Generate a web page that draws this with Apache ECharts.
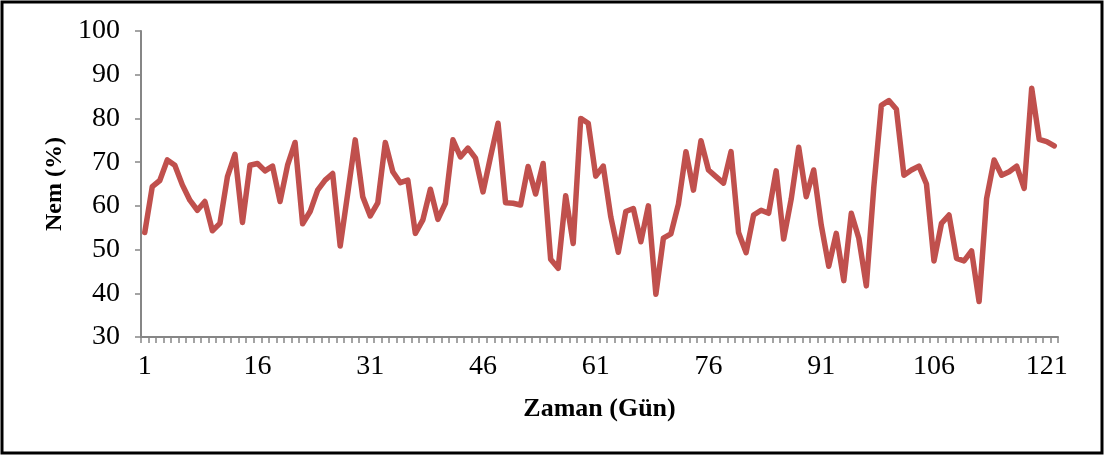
<!DOCTYPE html>
<html>
<head>
<meta charset="utf-8">
<script src="https://cdn.jsdelivr.net/npm/echarts@6/dist/echarts.min.js"></script>
<style>
html,body{margin:0;padding:0;background:#fff;}
#chart{width:1105px;height:459px;}
</style>
</head>
<body>
<div id="chart"></div>
<script>
// Days 1..122
var days = [];
for (var d = 1; d <= 122; d++) days.push(String(d));

var humidity = [
  53.9, 64.4, 65.8, 70.5, 69.3, 64.8, 61.3, 59.0, 61.0, 54.3,
  56.0, 66.7, 71.8, 56.2, 69.3, 69.7, 68.0, 69.1, 61.0, 69.3,
  74.5, 55.9, 58.7, 63.6, 65.9, 67.4, 50.8, 62.8, 75.1, 62.1,
  57.7, 60.7, 74.5, 67.8, 65.3, 65.9, 53.7, 56.8, 63.8, 56.9,
  60.6, 75.1, 71.2, 73.2, 70.9, 63.2, 71.2, 78.9, 60.7, 60.6,
  60.2, 69.0, 62.7, 69.7, 47.8, 45.7, 62.3, 51.4, 80.0, 78.9,
  66.8, 69.1, 57.5, 49.4, 58.7, 59.4, 51.8, 60.0, 39.8, 52.6,
  53.6, 60.4, 72.4, 63.6, 74.9, 68.2, 66.7, 65.2, 72.4, 53.9,
  49.3, 57.9, 59.0, 58.3, 68.0, 52.4, 61.5, 73.4, 62.1, 68.2,
  55.6, 46.2, 53.7, 42.9, 58.3, 52.6, 41.7, 64.4, 83.0, 84.1,
  82.1, 67.0, 68.2, 69.1, 65.0, 47.4, 56.0, 57.9, 48.0, 47.4,
  49.7, 38.1, 61.7, 70.5, 67.0, 67.8, 69.1, 64.0, 86.9, 75.2,
  74.7, 73.7
];

var yMin = 30, yMax = 100, yStep = 10;
var xTitle = 'Zaman (Gün)';
var yTitle = 'Nem (%)';

var font = '"Liberation Serif", "Times New Roman", serif';
var axisGray = '#868686';

var chart = echarts.init(document.getElementById('chart'), null, {renderer: 'canvas'});
chart.setOption({
  animation: false,
  backgroundColor: '#fff',
  graphic: [{
    type: 'rect',
    shape: {x: 2, y: 2, width: 1100, height: 451},
    style: {fill: 'none', stroke: '#000', lineWidth: 3},
    silent: true,
    z: 100
  }],
  grid: {left: 141, right: 47, top: 31, bottom: 122, containLabel: false},
  xAxis: {
    type: 'category',
    data: days,
    boundaryGap: true,
    name: xTitle,
    nameLocation: 'middle',
    nameGap: 59,
    nameTextStyle: {fontFamily: font, fontSize: 26, fontWeight: 'bold', color: '#000'},
    axisLine: {show: true, lineStyle: {color: axisGray, width: 2}},
    axisTick: {show: true, interval: 0, length: 6, lineStyle: {color: axisGray, width: 1.5}},
    axisLabel: {interval: 14, fontFamily: font, fontSize: 28, color: '#000', margin: 16},
    splitLine: {show: false}
  },
  yAxis: {
    type: 'value',
    min: yMin,
    max: yMax,
    interval: yStep,
    name: yTitle,
    nameLocation: 'middle',
    nameGap: 73,
    nameRotate: 90,
    nameTextStyle: {fontFamily: font, fontSize: 24, fontWeight: 'bold', color: '#000'},
    axisLine: {show: true, lineStyle: {color: axisGray, width: 2}},
    axisTick: {show: true, length: 6, lineStyle: {color: axisGray, width: 1.5}},
    axisLabel: {fontFamily: font, fontSize: 28, color: '#000', margin: 21},
    splitLine: {show: false}
  },
  series: [{
    type: 'line',
    data: humidity,
    symbol: 'none',
    lineStyle: {color: '#C0504D', width: 5.5, join: 'round', cap: 'round'},
    itemStyle: {color: '#C0504D'}
  }]
});
</script>
</body>
</html>
